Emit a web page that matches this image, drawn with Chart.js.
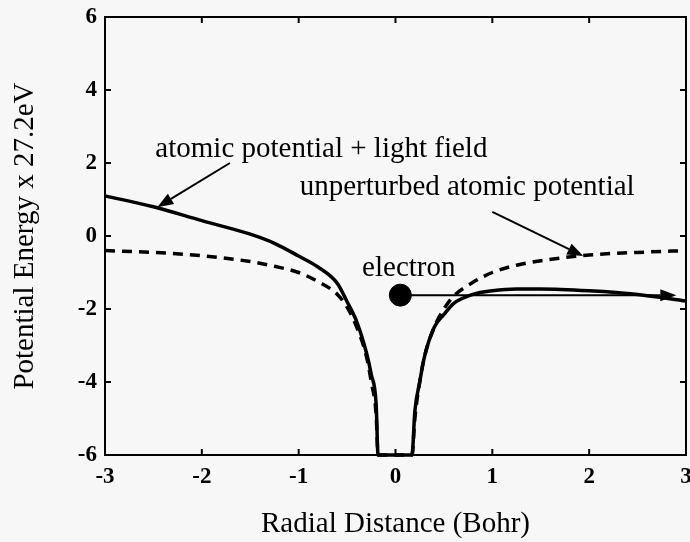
<!DOCTYPE html>
<html>
<head>
<meta charset="utf-8">
<script src="https://cdn.jsdelivr.net/npm/chart.js@4"></script>
<style>
  html, body { margin: 0; padding: 0; background: #f7f7f7; }
  #wrap { width: 690px; height: 542px; }
</style>
</head>
<body>
<div id="wrap"><canvas id="chart"></canvas></div>
<script>
// radial distance samples (Bohr)
const radius = [-3, -2.5, -2, -1.5, -1.25, -1, -0.8, -0.6, -0.5, -0.4, -0.3, -0.25, -0.2, -0.18,
                0, 0.17, 0.2, 0.25, 0.3, 0.4, 0.5, 0.6, 0.8, 1, 1.25, 1.5, 2, 2.5, 3];
// unperturbed atomic potential (dashed)
const unperturbed = [-0.4, -0.45, -0.54, -0.7, -0.83, -1.0, -1.25, -1.6, -1.95, -2.5, -3.3, -4.0, -4.9, -6,
                     -6, -6, -5.0, -4.0, -3.3, -2.5, -2.0, -1.65, -1.27, -1.0, -0.8, -0.68, -0.52, -0.45, -0.4];
// atomic potential + light field (solid)
const withField = [1.1, 0.8, 0.42, 0.05, -0.2, -0.55, -0.85, -1.3, -1.8, -2.35, -3.2, -3.8, -4.6, -6,
                   -6, -6, -4.8, -4.0, -3.3, -2.5, -2.15, -1.85, -1.6, -1.5, -1.45, -1.45, -1.5, -1.6, -1.78];
const xTicks = [-3, -2, -1, 0, 1, 2, 3];
const yTicks = [-6, -4, -2, 0, 2, 4, 6];

const electron = { x: 0.05, y: -1.62 };
const electronArrowEnd = { x: 2.9, y: -1.62 };

// annotation labels, in data units
const notes = [
  { text: 'atomic potential + light field', x: -2.48, y: 2.16, from: { x: -1.71, y: 2.0 }, to: { x: -2.46, y: 0.79 } },
  { text: 'unperturbed atomic potential', x: -0.99, y: 1.12, from: { x: 1.0, y: 0.66 }, to: { x: 1.94, y: -0.55 } },
  { text: 'electron', x: -0.345, y: -1.1 }
];

const serif = '"Liberation Serif", "DejaVu Serif", serif';

function arrow(ctx, x1, y1, x2, y2) {
  const ang = Math.atan2(y2 - y1, x2 - x1);
  const len = 16, half = 6;
  const bx = x2 - len * Math.cos(ang), by = y2 - len * Math.sin(ang);
  ctx.beginPath();
  ctx.moveTo(x1, y1);
  ctx.lineTo(bx, by);
  ctx.stroke();
  ctx.beginPath();
  ctx.moveTo(x2, y2);
  ctx.lineTo(bx + half * Math.sin(ang), by - half * Math.cos(ang));
  ctx.lineTo(bx - half * Math.sin(ang), by + half * Math.cos(ang));
  ctx.closePath();
  ctx.fill();
}

const framePlugin = {
  id: 'frame',
  afterDatasetsDraw(chart) {
    const { ctx, chartArea: a, scales: { x, y } } = chart;
    ctx.save();
    ctx.strokeStyle = '#000';
    ctx.fillStyle = '#000';
    ctx.lineWidth = 2;
    ctx.strokeRect(a.left, a.top, a.right - a.left, a.bottom - a.top);
    // inward ticks on all four sides
    ctx.beginPath();
    xTicks.forEach(v => {
      const px = x.getPixelForValue(v);
      ctx.moveTo(px, a.bottom); ctx.lineTo(px, a.bottom - 6);
      ctx.moveTo(px, a.top); ctx.lineTo(px, a.top + 6);
    });
    yTicks.forEach(v => {
      const py = y.getPixelForValue(v);
      ctx.moveTo(a.left, py); ctx.lineTo(a.left + 6, py);
      ctx.moveTo(a.right, py); ctx.lineTo(a.right - 6, py);
    });
    ctx.stroke();

    // annotations
    ctx.font = '29px ' + serif;
    ctx.textBaseline = 'alphabetic';
    ctx.textAlign = 'left';
    ctx.lineWidth = 2;
    notes.forEach(n => {
      ctx.fillText(n.text, x.getPixelForValue(n.x), y.getPixelForValue(n.y));
      if (n.from) {
        arrow(ctx, x.getPixelForValue(n.from.x), y.getPixelForValue(n.from.y),
                   x.getPixelForValue(n.to.x), y.getPixelForValue(n.to.y));
      }
    });
    // electron arrow
    arrow(ctx, x.getPixelForValue(electron.x), y.getPixelForValue(electron.y),
               x.getPixelForValue(electronArrowEnd.x), y.getPixelForValue(electronArrowEnd.y));
    ctx.restore();
  }
};

new Chart(document.getElementById('chart'), {
  type: 'scatter',
  data: {
    datasets: [
      {
        label: 'atomic potential + light field',
        data: radius.map((r, i) => ({ x: r, y: withField[i] })),
        showLine: true, borderColor: '#000', borderWidth: 3.5, pointRadius: 0,
        cubicInterpolationMode: 'monotone', clip: 5
      },
      {
        label: 'unperturbed atomic potential',
        data: radius.map((r, i) => ({ x: r, y: unperturbed[i] })),
        showLine: true, borderColor: '#000', borderWidth: 3.5, borderDash: [10, 7], pointRadius: 0,
        cubicInterpolationMode: 'monotone', clip: 5
      },
      {
        label: 'electron',
        data: [electron],
        pointRadius: 11, pointBackgroundColor: '#000', pointBorderColor: '#000'
      }
    ]
  },
  options: {
    responsive: true,
    maintainAspectRatio: false,
    animation: false,
    layout: { autoPadding: false, padding: { left: 0, right: 4, top: 17, bottom: 0 } },
    plugins: { legend: { display: false }, tooltip: { enabled: false } },
    scales: {
      x: {
        type: 'linear', min: -3, max: 3,
        afterBuildTicks: s => { s.ticks = xTicks.map(v => ({ value: v })); },
        afterFit: s => { s.height = 87; s.paddingLeft = 0; s.paddingRight = 0; },
        grid: { display: false, drawTicks: false },
        border: { display: false },
        ticks: { color: '#000', padding: 8, font: { family: serif, size: 23, weight: 'bold' } },
        title: { display: true, text: 'Radial Distance (Bohr)', color: '#000', padding: { bottom: 0 },
                 font: { family: serif, size: 29 } }
      },
      y: {
        type: 'linear', min: -6, max: 6,
        afterBuildTicks: s => { s.ticks = yTicks.map(v => ({ value: v })); },
        afterFit: s => { s.width = 105; s.paddingTop = 0; s.paddingBottom = 0; },
        grid: { display: false, drawTicks: false },
        border: { display: false },
        ticks: { color: '#000', padding: 8, font: { family: serif, size: 23, weight: 'bold' } },
        title: { display: true, text: 'Potential Energy x 27.2eV', color: '#000', padding: { top: 8 },
                 font: { family: serif, size: 29 } }
      }
    }
  },
  plugins: [framePlugin]
});
</script>
</body>
</html>
